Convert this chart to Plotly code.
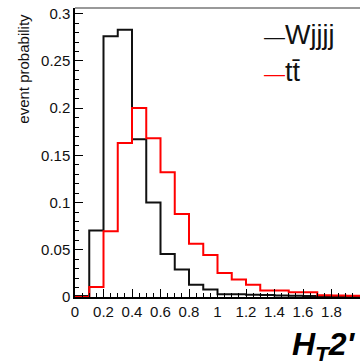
import plotly.graph_objects as go

# ---- data ----
bin_edges = [0.0, 0.1, 0.2, 0.3, 0.4, 0.5, 0.6, 0.7, 0.8, 0.9, 1.0,
             1.1, 1.2, 1.3, 1.4, 1.5, 1.6, 1.7, 1.8, 1.9, 2.0]
wjjjj = [0.001, 0.0705, 0.276, 0.283, 0.167, 0.100, 0.0455, 0.029, 0.013, 0.008,
         0.003, 0.0028, 0.0025, 0.002, 0.0015, 0.0012, 0.001, 0.001, 0.0008, 0.0008]
ttbar = [0.0, 0.0107, 0.0695, 0.163, 0.200, 0.168, 0.132, 0.088, 0.0565, 0.0445,
         0.0255, 0.0184, 0.013, 0.007, 0.0068, 0.005, 0.005, 0.0018, 0.0015, 0.0012]
series_names = ["Wjjjj", "tt\u0304"]
series_colors = ["#111111", "#ff0000"]
y_title = "event probability"
x_title = "<b><i>H<sub>T</sub>2'</i></b>"

FONT = "Liberation Sans, Arial, Helvetica, sans-serif"

fig = go.Figure()
for vals, name, col in zip([wjjjj, ttbar], series_names, series_colors):
    fig.add_trace(go.Scatter(
        x=bin_edges, y=vals + [vals[-1]], mode="lines", line_shape="hv",
        line=dict(color=col, width=2), name=name, showlegend=False))

axis_common = dict(
    showline=True, linecolor="black", linewidth=1.5,
    ticks="inside", ticklen=8, tickwidth=1, tickcolor="black",
    showgrid=False, zeroline=False,
    tickfont=dict(family=FONT, size=15, color="#111111"),
)
fig.update_xaxes(range=[0, 2.0], dtick=0.2, tick0=0,
                 minor=dict(dtick=0.05, ticklen=4, tickcolor="black", ticks="inside"),
                 **axis_common)
fig.update_yaxes(range=[0, 0.306], dtick=0.05, tick0=0,
                 minor=dict(dtick=0.01, ticklen=4, tickcolor="black", ticks="inside"),
                 **axis_common)

# top frame line
fig.add_shape(type="line", xref="paper", yref="paper", x0=0, x1=1, y0=1, y1=1,
              line=dict(color="#999999", width=2))

# y title (ROOT style, near top)
fig.add_annotation(text=y_title, xref="paper", yref="paper", x=-0.179, y=0.79,
                   xanchor="center", yanchor="middle", textangle=-90, showarrow=False,
                   font=dict(family=FONT, size=15, color="#111111"))
# x title
fig.add_annotation(text=x_title, xref="paper", yref="paper", x=0.755, y=-0.092,
                   xanchor="left", yanchor="top", showarrow=False,
                   font=dict(family=FONT, size=32, color="#000000"))

# legend (ROOT style: short line then text)
leg_y = [0.905, 0.78]
for name, col, yy in zip(series_names, series_colors, leg_y):
    fig.add_annotation(
        text="<span style='color:%s;font-size:21px'>\u2014</span>%s" % (col, name),
        xref="paper", yref="paper", x=0.656, y=yy, xanchor="left", yanchor="middle",
        showarrow=False, font=dict(family=FONT, size=27, color="#111111"))

fig.update_layout(
    width=360, height=361,
    margin=dict(l=75, r=0, t=8, b=64),
    plot_bgcolor="white", paper_bgcolor="white",
    showlegend=False,
)

fig.write_html("out.html")
